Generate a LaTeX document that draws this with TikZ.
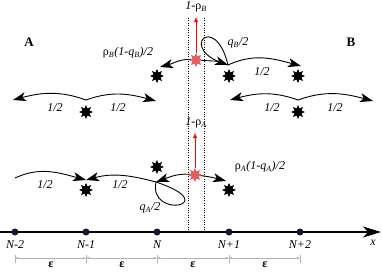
\documentclass[tikz,border=0pt]{standalone}
\usepackage{fontspec}
\setmainfont{Liberation Serif}
\usepackage{tikz}
\usetikzlibrary{arrows.meta,positioning,shapes.geometric}
\definecolor{darkdot}{RGB}{25,20,50}
\definecolor{lightred}{RGB}{225,95,95}
\newcommand{\lsub}[1]{\textsubscript{\itshape #1}}

\begin{document}
\begin{tikzpicture}[x=1pt,y=-1pt,font=\fontsize{12}{14}\selectfont,
  hop/.style={star,star points=8,star point ratio=1.8,fill=black,minimum size=14pt,inner sep=0pt},
  redhop/.style={hop,fill=lightred},
  site/.style={circle,fill=darkdot,minimum size=7pt,inner sep=0pt},
  jump/.style={line width=0.9pt,-{Stealth[length=13pt,width=9pt,inset=3.5pt]}},
  dimline/.style={gray!60,thin,{Latex[length=3pt,width=2.5pt]}-{Latex[length=3pt,width=2.5pt]}},
  lab/.style={font=\fontsize{12}{14}\selectfont\itshape}]
  \useasboundingbox (0,0) rectangle (382,271);

  % lattice
  \coordinate (xl) at (0,232);
  \coordinate (xr) at (381,232);
  \draw[line width=1.3pt,-{Stealth[length=18pt,width=11pt,inset=5pt]}] (xl) -- (xr);
  \node[lab] (xlab) at (373,243) {x};
  \foreach \i/\x/\lab in {0/15/N-2,1/86/N-1,2/157/N,3/229/N+1,4/300/N+2}{
    \node[site] (s\i) at (\x,232) {};
    \node[lab] (n\i) at (\x,245) {\lab};
    \coordinate (d\i) at (\x,258);
    \draw[gray!60] (\x,255) -- (\x,263);
  }
  \foreach \i/\j/\x in {0/1/51,1/2/122,2/3/193,3/4/265}{
    \draw[dimline] (d\i) -- (d\j);
    \node[font=\fontsize{12}{14}\selectfont\bfseries,inner sep=0pt] (e\i) at (\x,265) {ε};
  }
  \draw[dotted] (188,18) -- (188,232);
  \draw[dotted] (204,18) -- (204,232);

  % particles
  \node[hop] (hB1) at (157,76) {};
  \node[hop] (hB2) at (229,76) {};
  \node[hop] (hB3) at (298,76) {};
  \node[hop] (hB4) at (298,112) {};
  \node[hop] (hA4) at (86,112) {};
  \node[hop] (hA1) at (86,190) {};
  \node[hop] (hA2) at (157,167) {};
  \node[hop] (hA3) at (229,190) {};

  \node[font=\fontsize{13}{15}\selectfont\bfseries] (pA) at (29,42) {A};
  \node[font=\fontsize{13}{15}\selectfont\bfseries] (pB) at (351,42) {B};

  % upper group (B)
  \coordinate (bL) at (160,67);
  \coordinate (bJ) at (228,65);
  \coordinate (bR) at (301,66);
  \coordinate (bT) at (196,17);
  \draw[jump] (196,60) to[out=170,in=15] (bL);
  \draw[jump] (196,60) to[out=-5,in=160] (bJ);
  \draw[line width=0.9pt] (bJ) .. controls (175,50) and (215,10) .. (bJ);
  \draw[jump] (bJ) to[out=25,in=165] (bR);
  \node[redhop] (rB) at (196,60) {};
  \draw[red,-{Latex[length=5pt,width=4pt]}] (rB) -- (bT);
  \node (tB) at (196,7) {\textit{1-}ρ\lsub{B}};
  \node (lB1) at (128,53) {ρ\lsub{B}\textit{(1-q}\lsub{B}\textit{)/2}};
  \node (lB2) at (238,43) {\textit{q}\lsub{B}\textit{/2}};
  \node[lab] (lB3) at (262,72) {1/2};

  \coordinate (cJ) at (298,100);
  \coordinate (cL) at (230,100);
  \coordinate (cR) at (373,101);
  \draw[jump] (cJ) to[out=160,in=15] (cL);
  \draw[jump] (cJ) to[out=20,in=165] (cR);
  \node[lab] (lC1) at (272,108) {1/2};
  \node[lab] (lC2) at (335,108) {1/2};

  \coordinate (dJ) at (86,100);
  \coordinate (dL) at (13,100);
  \coordinate (dR) at (156,101);
  \draw[jump] (dJ) to[out=160,in=15] (dL);
  \draw[jump] (dJ) to[out=20,in=165] (dR);
  \node[lab] (lD1) at (55,108) {1/2};
  \node[lab] (lD2) at (118,108) {1/2};

  % lower group (A)
  \coordinate (aS) at (15,178);
  \coordinate (aM) at (86,180);
  \coordinate (aJ) at (156,182);
  \coordinate (aR) at (226,181);
  \coordinate (aT) at (195,133);
  \draw[jump] (195,175) to[out=170,in=20] (aJ);
  \draw[jump] (195,175) to[out=-5,in=165] (aR);
  \draw[line width=0.9pt] (aJ) .. controls (148,220) and (225,205) .. (aJ);
  \draw[jump] (aJ) to[out=165,in=15] (aM);
  \draw[jump] (aS) to[out=25,in=165] (aM);
  \node[redhop] (rA) at (195,175) {};
  \draw[red,-{Latex[length=5pt,width=4pt]}] (rA) -- (aT);
  \node (tA) at (196,123) {\textit{1-}ρ\lsub{A}};
  \node (lA1) at (260,167) {ρ\lsub{A}\textit{(1-q}\lsub{A}\textit{)/2}};
  \node (lA2) at (150,208) {\textit{q}\lsub{A}\textit{/2}};
  \node[lab] (lA3) at (45,185) {1/2};
  \node[lab] (lA4) at (120,185) {1/2};
\end{tikzpicture}
\end{document}
